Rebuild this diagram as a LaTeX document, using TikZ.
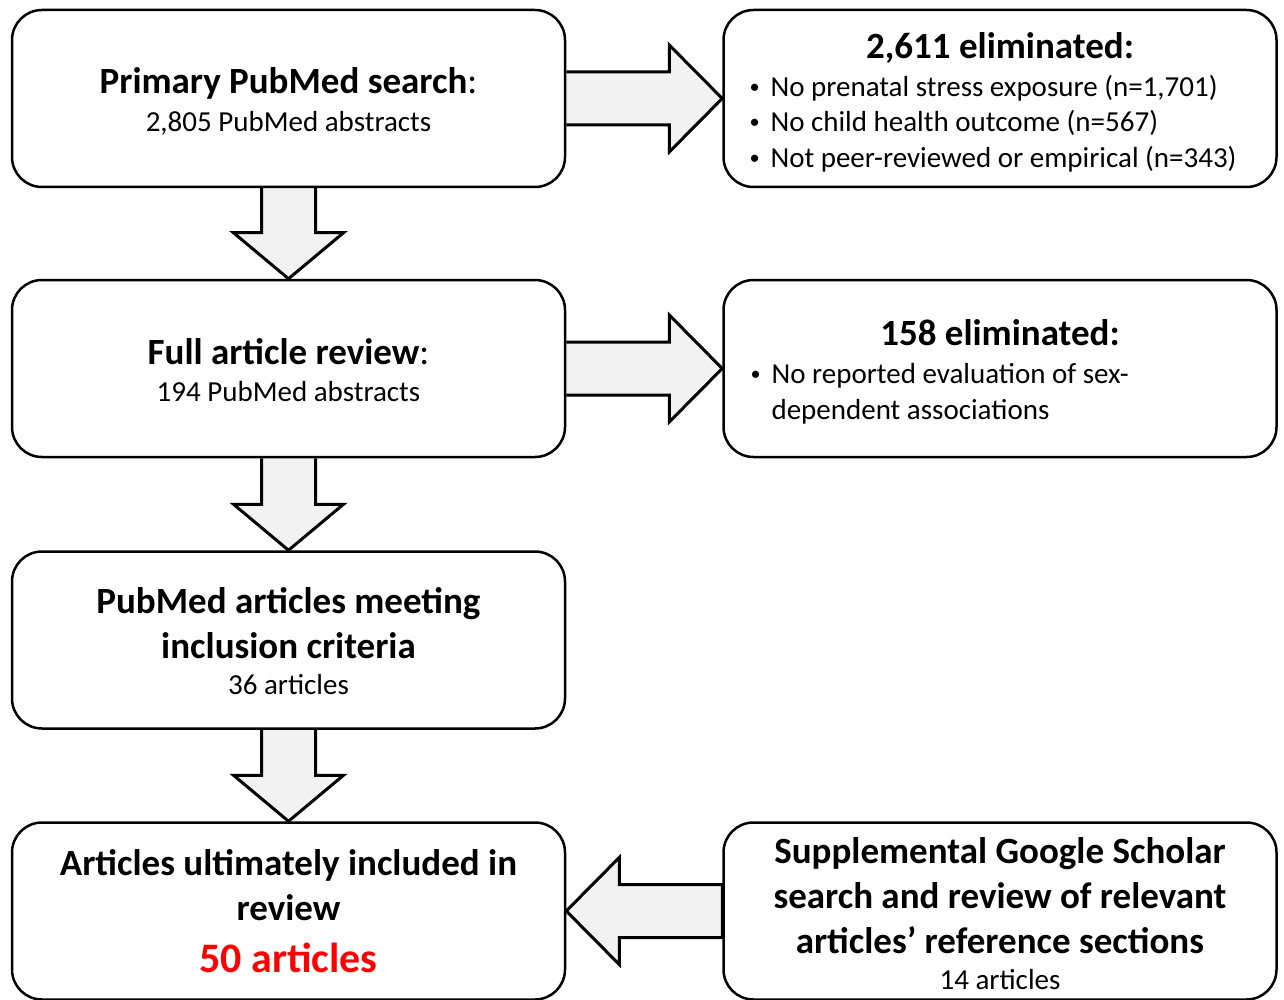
\documentclass[tikz,border=0pt]{standalone}
\usepackage{fontspec}
\setmainfont{Carlito}
\usetikzlibrary{calc,backgrounds}
\definecolor{arrowfill}{HTML}{F2F2F2}
\definecolor{redtxt}{HTML}{FF0000}
\newcommand{\bfs}{\fontsize{37}{45}\selectfont\bfseries}
\newcommand{\rfs}{\fontsize{29}{36}\selectfont\mdseries}
\newcommand{\bigfs}{\fontsize{42}{48}\selectfont\bfseries}
\newcommand{\bul}{\makebox[21pt][l]{\raisebox{3pt}{\scalebox{0.7}{•}}}}
\begin{document}
\begin{tikzpicture}[x=1pt,y=-1pt,
  box/.style={draw,line width=2.5pt,rounded corners=30pt,minimum width=553pt,minimum height=177pt,inner sep=0pt},
  txt/.style={align=center,font=\rfs,inner sep=0pt},
  fat/.style={draw,line width=3pt,fill=arrowfill,line join=miter},
  head/.style={font=\bfs,anchor=base},
  item/.style={font=\rfs,anchor=base west}]
\useasboundingbox (0,0) rectangle (1284,1000);

\node[box] (b1) at (288.5,98.5) {};
\node[txt] (t1) at ($(b1)+(0,3)$) {{\bfs Primary PubMed search\mdseries:}\\[2pt]2,805 PubMed abstracts};
\node[box] (b2) at (1000,98.5) {};
\node[head] (h2) at (1000,58.5) {2,611 eliminated:};
\node[item] (l21) at (746,96.5) {\bul No prenatal stress exposure (n=1,701)};
\node[item] (l22) at (746,132) {\bul No child health outcome (n=567)};
\node[item] (l23) at (746,167.5) {\bul Not peer-reviewed or empirical (n=343)};

\node[box] (b3) at (288.5,368.5) {};
\node[txt] (t3) at ($(b3)+(0,1.5)$) {{\bfs Full article review\mdseries:}\\[1pt]194 PubMed abstracts};
\node[box] (b4) at (1000,368.5) {};
\node[head] (h4) at (1000,345) {158 eliminated:};
\node[item] (l41) at (747,383) {\bul No reported evaluation of sex-};
\node[item] (l42) at (747,419) {\makebox[21pt][l]{}dependent associations};

\node[box] (b5) at (288.5,640) {};
\node[txt] (t5) at ($(b5)+(0,1.5)$) {{\bfs PubMed articles meeting}\\[9pt]{\bfs inclusion criteria}\\36 articles};
\node[box] (b6) at (288.5,911) {};
\node[txt] (t6) at ($(b6)+(0,0.5)$) {{\bfs Articles ultimately included in}\\[9pt]{\bfs review}\\[16pt]{\bigfs\color{redtxt}50 articles}};
\node[box] (b7) at (1000,911) {};
\node[txt] (t7) at ($(b7)+(0,2.5)$) {{\bfs Supplemental Google Scholar}\\[9pt]{\bfs search and review of relevant}\\[9pt]{\bfs articles’ reference sections}\\14 articles};

\begin{scope}[on background layer]
\foreach \u/\v in {b1/b3,b3/b5,b5/b6}{
  \draw[fat] ($(\u.south)+(-27,0)$) -- ($(\v.north)+(-27,-46)$) -- ($(\v.north)+(-55,-46)$) -- (\v.north)
    -- ($(\v.north)+(55,-46)$) -- ($(\v.north)+(27,-46)$) -- ($(\u.south)+(27,0)$);
}
\foreach \u/\v in {b1/b2,b3/b4}{
  \draw[fat] ($(\u.east)+(0,-26.5)$) -- ($(\v.west)+(-53,-26.5)$) -- ($(\v.west)+(-53,-53.5)$) -- (\v.west)
    -- ($(\v.west)+(-53,53.5)$) -- ($(\v.west)+(-53,26.5)$) -- ($(\u.east)+(0,26.5)$);
}
\draw[fat] ($(b7.west)+(0,-26.5)$) -- ($(b6.east)+(53,-26.5)$) -- ($(b6.east)+(53,-53.5)$) -- (b6.east)
    -- ($(b6.east)+(53,53.5)$) -- ($(b6.east)+(53,26.5)$) -- ($(b7.west)+(0,26.5)$) -- cycle;
\end{scope}
\end{tikzpicture}
\end{document}
